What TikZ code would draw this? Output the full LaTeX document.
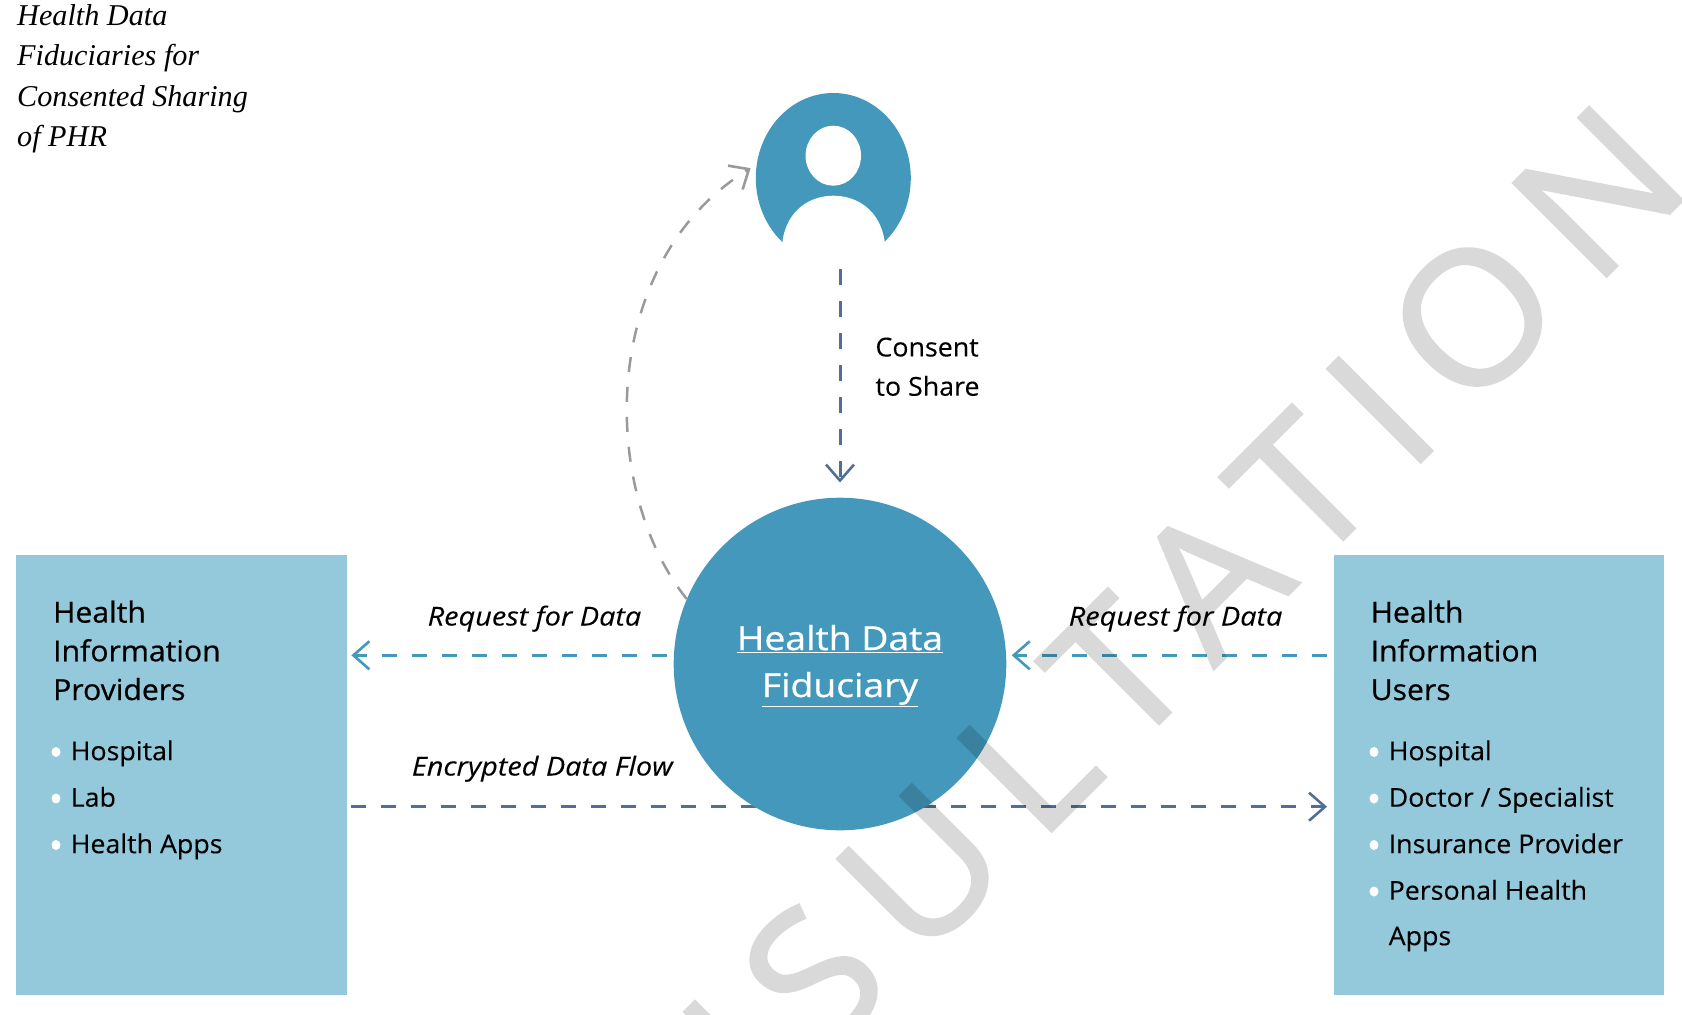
\documentclass[tikz,border=0pt]{standalone}
\usepackage{fontspec}
\setmainfont[FakeBold=0.15,FakeStretch=1.03]{Open Sans}
\newfontfamily\titlefont{Liberation Serif}
\newfontfamily\headfont[FakeBold=0.6,FakeStretch=1.04]{Open Sans}
\newfontfamily\hdffont[FakeBold=0.8,FakeStretch=1.13]{Open Sans}
\newfontfamily\edgefont[FakeBold=0.15,FakeStretch=1.11]{Open Sans}
\newfontfamily\markfont[FakeBold=1.5,FakeStretch=1.04,LetterSpace=16]{Open Sans}
\usetikzlibrary{arrows.meta,shapes.geometric}
\definecolor{hdfblue}{HTML}{4398BB}
\definecolor{boxblue}{HTML}{94C9DB}
\definecolor{flowblue}{HTML}{4F7094}
\definecolor{curvegray}{HTML}{9A9A9A}
\tikzset{
	infobox/.style={fill=boxblue,minimum width=330.5pt,minimum height=440pt,anchor=north west,inner sep=0},
	boxhead/.style={anchor=base west,align=left,inner sep=0,font=\fontsize{29}{38.7}\selectfont\headfont},
	boxitem/.style={anchor=base west,inner sep=0,font=\fontsize{26}{32}\selectfont},
	boxdot/.style={fill=white,ellipse,minimum width=9pt,minimum height=10pt,inner sep=0},
	edgetext/.style={anchor=base west,inner sep=0,font=\fontsize{26}{32}\selectfont\edgefont\itshape},
	flowline/.style={line width=3pt,dash pattern=on 15pt off 15pt,-{Straight Barb[length=16pt,width=28pt,line width=2.6pt]}}
}
\begin{document}
\begin{tikzpicture}[x=1pt,y=-1pt]
\useasboundingbox (0,0) rectangle (1682,1015);

%label figure
\node[anchor=base west,align=left,inner sep=0,font=\fontsize{30.2}{40.3}\selectfont\titlefont\itshape] (figlabel) at (17,146.5) {Health Data\\Fiduciaries for\\Consented Sharing\\of PHR};

%draw boxes
\node[infobox] (hip) at (16,554.5) {};
\node[infobox] (hiu) at (1333.5,554.5) {};
\node[boxhead] (hiphead) at (53,700) {Health\\Information\\Providers};
\node[boxhead] (hiuhead) at (1370.5,700) {Health\\Information\\Users};

%draw left list
\foreach \i/\lbl in {0/Hospital,1/Lab,2/Health Apps}
	{
	\node[boxdot] (hipdot\i) at (56,752 + 46.5*\i) {};
	\node[boxitem] (hipitem\i) at (70.5,760.2 + 46.5*\i) {\lbl};
	}
%draw right list
\foreach \i/\lbl in {0/Hospital,1/{Doctor / Specialist},2/Insurance Provider,3/Personal Health}
	{
	\node[boxdot] (hiudot\i) at (1374,752 + 46.5*\i) {};
	\node[boxitem] (hiuitem\i) at (1388.5,760.2 + 46.5*\i) {\lbl};
	}
\node[boxitem] (hiuitem4) at (1388.5,945.2) {Apps};

%encrypted flow runs behind the circle
\coordinate (flow) at (840,806.7);
\draw[flowline,flowblue,shorten <=4.5pt,shorten >=6.5pt] (flow -| hip.east)--(flow -| hiu.west);

%draw person
\node[ellipse,fill=hdfblue,minimum width=155pt,minimum height=170pt,inner sep=0] (user) at (833.3,178) {};
\fill[white] (782.5,241) .. controls (787,210) and (810,195.7) .. (833.3,195.7) .. controls (857,195.7) and (880,210) .. (884.6,241) -- (884.6,268) -- (782.5,268) -- cycle;
\node[ellipse,fill=white,minimum width=55.5pt,minimum height=60pt,inner sep=0] (userhead) at (833.3,155.7) {};

%draw fiduciary
\node[circle,fill=hdfblue,minimum size=332.6pt,inner sep=0] (hdf) at (840,664) {};
\node[anchor=base,align=center,inner sep=0,text=white,font=\fontsize{33}{47}\selectfont\hdffont] (hdftext) at (840,697) {\underline{Health Data}\\\underline{Fiduciary}};

%draw arrows
\draw[flowline,flowblue,dash pattern=on 16pt off 16pt,shorten <=6pt,shorten >=15pt] (hdf.north |- user.south)--(hdf.north);
\draw[flowline,hdfblue,shorten <=7pt,shorten >=4.5pt] (hdf.177)--(hdf.177 -| hip.east);
\draw[flowline,hdfblue,shorten <=6.5pt,shorten >=5.5pt] (hdf.3 -| hiu.west)--(hdf.3);
\draw[flowline,curvegray,line width=2.5pt,shorten >=7pt] (hdf.157) .. controls (599,490) and (598,262) .. (user.170);

%edge labels
\node[anchor=base west,align=left,inner sep=0,font=\fontsize{26}{39.3}\selectfont] (consent) at (875.3,395.7) {Consent\\to Share};
\node[edgetext] (reqleft) at (427.5,625.5) {Request for Data};
\node[edgetext] (reqright) at (1068.6,625.5) {Request for Data};
\node[edgetext] (encflow) at (411.7,775.5) {Encrypted Data Flow};

%watermark on top of everything
\begin{scope}[transparency group,opacity=0.15]
\clip (0,0) rectangle (1682,1015);
\node[anchor=base east,rotate=45,inner sep=0,text=black,font=\fontsize{185}{185}\selectfont\markfont] (mark) at (1696,187) {CONSULTATION};
\end{scope}

\end{tikzpicture}
\end{document}
